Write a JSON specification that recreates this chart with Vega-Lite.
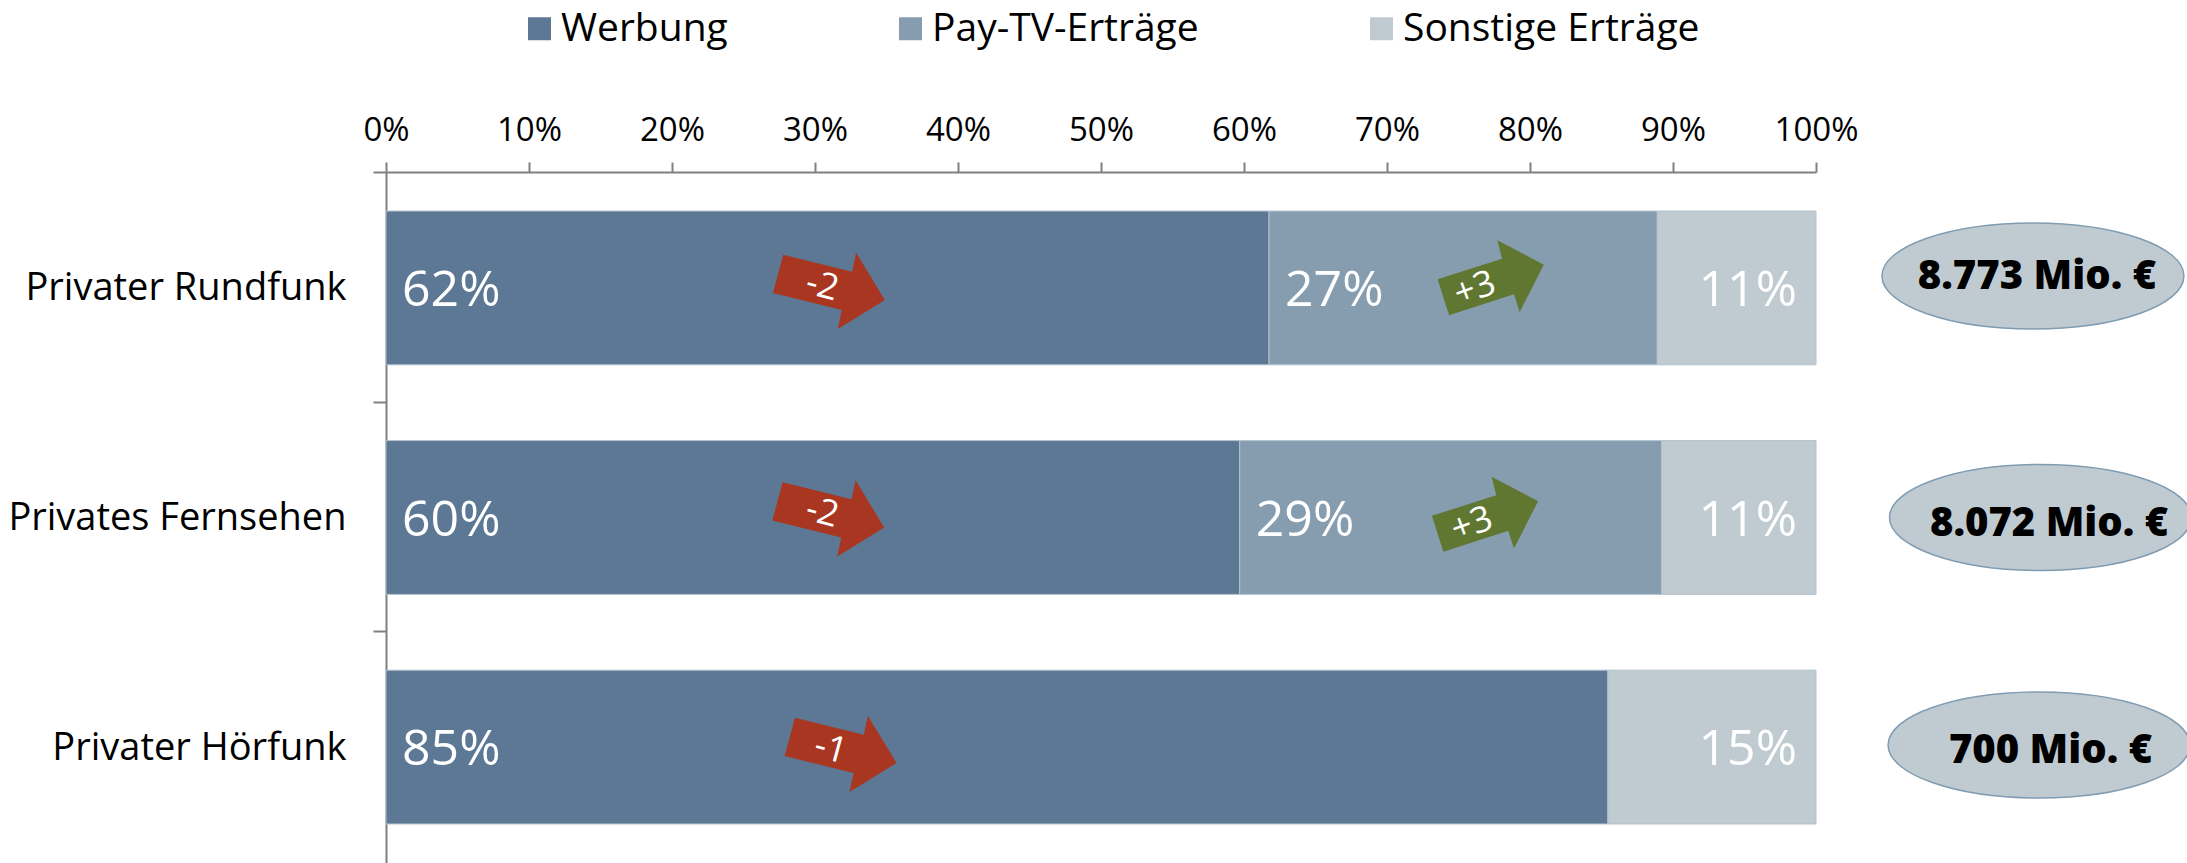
{"$schema":"https://vega.github.io/schema/vega-lite/v6.json","autosize":{"type":"none"},"width":1430,"height":691,"padding":{"left":386,"top":172,"right":371,"bottom":0},"background":"white","config":{"view":{"stroke":null},"font":"Open Sans"},"datasets":{"anteile":[{"Rundfunk":"Privater Rundfunk","Art":"Werbung","Ordnung":1,"Anteil":61.75,"Label":"62%"},{"Rundfunk":"Privater Rundfunk","Art":"Pay-TV-Erträge","Ordnung":2,"Anteil":27.15,"Label":"27%"},{"Rundfunk":"Privater Rundfunk","Art":"Sonstige Erträge","Ordnung":3,"Anteil":11.1,"Label":"11%"},{"Rundfunk":"Privates Fernsehen","Art":"Werbung","Ordnung":1,"Anteil":59.7,"Label":"60%"},{"Rundfunk":"Privates Fernsehen","Art":"Pay-TV-Erträge","Ordnung":2,"Anteil":29.5,"Label":"29%"},{"Rundfunk":"Privates Fernsehen","Art":"Sonstige Erträge","Ordnung":3,"Anteil":10.8,"Label":"11%"},{"Rundfunk":"Privater Hörfunk","Art":"Werbung","Ordnung":1,"Anteil":85.45,"Label":"85%"},{"Rundfunk":"Privater Hörfunk","Art":"Sonstige Erträge","Ordnung":3,"Anteil":14.55,"Label":"15%"}],"veraenderung":[{"Rundfunk":"Privater Rundfunk","Art":"Werbung","Wert":"-2"},{"Rundfunk":"Privater Rundfunk","Art":"Pay-TV-Erträge","Wert":"+3"},{"Rundfunk":"Privates Fernsehen","Art":"Werbung","Wert":"-2"},{"Rundfunk":"Privates Fernsehen","Art":"Pay-TV-Erträge","Wert":"+3"},{"Rundfunk":"Privater Hörfunk","Art":"Werbung","Wert":"-1"}],"gesamt":[{"Rundfunk":"Privater Rundfunk","Summe":"8.773 Mio. €"},{"Rundfunk":"Privates Fernsehen","Summe":"8.072 Mio. €"},{"Rundfunk":"Privater Hörfunk","Summe":"700 Mio. €"}]},"data":{"name":"anteile"},"encoding":{"y":{"field":"Rundfunk","type":"nominal","sort":["Privater Rundfunk","Privates Fernsehen","Privater Hörfunk"],"title":null,"scale":{"paddingInner":0.33,"paddingOuter":0.17},"axis":{"bandPosition":0,"tickOffset":-39,"labelOffset":40,"domainColor":"#808080","domainWidth":2,"tickColor":"#808080","tickWidth":2,"tickSize":13,"labelFontSize":38,"labelFont":"Open Sans","labelColor":"#000000","labelPadding":27,"labelLimit":400}}},"layer":[{"transform":[{"stack":"Anteil","groupby":["Rundfunk"],"sort":[{"field":"Ordnung","order":"ascending"}],"as":["Beginn","Ende"]}],"mark":{"type":"bar","stroke":"#B4C2CD","strokeWidth":1},"encoding":{"x":{"field":"Beginn","type":"quantitative","scale":{"domain":[0,100],"nice":false},"title":null,"axis":{"orient":"top","values":[0,10,20,30,40,50,60,70,80,90,100],"labelExpr":"datum.value+'%'","grid":false,"domainColor":"#808080","domainWidth":2,"tickColor":"#808080","tickWidth":2,"tickSize":10,"labelFontSize":33,"labelFont":"Open Sans","labelColor":"#000000","labelPadding":15,"labelFlush":false,"labelOverlap":false}},"x2":{"field":"Ende"},"color":{"field":"Art","type":"nominal","sort":["Werbung","Pay-TV-Erträge","Sonstige Erträge"],"scale":{"domain":["Werbung","Pay-TV-Erträge","Sonstige Erträge"],"range":["#5C7894","#869DB0","#C0CBD1"]},"legend":{"orient":"none","legendX":134,"legendY":-163,"direction":"horizontal","title":null,"symbolType":"square","symbolSize":529,"symbolStrokeWidth":0,"labelFontSize":39,"labelFont":"Open Sans","labelColor":"#000000","labelLimit":400,"columnPadding":163,"symbolOffset":0,"labelOffset":2}}}},{"transform":[{"stack":"Anteil","groupby":["Rundfunk"],"sort":[{"field":"Ordnung","order":"ascending"}],"as":["Beginn","Ende"]},{"filter":"datum.Art!=='Sonstige Erträge'"}],"mark":{"type":"text","align":"left","baseline":"middle","dx":16,"dy":3,"fontSize":50,"font":"Open Sans","color":"#FFFFFF"},"encoding":{"x":{"field":"Beginn","type":"quantitative"},"text":{"field":"Label"}}},{"transform":[{"stack":"Anteil","groupby":["Rundfunk"],"sort":[{"field":"Ordnung","order":"ascending"}],"as":["Beginn","Ende"]},{"filter":"datum.Art==='Sonstige Erträge'"}],"mark":{"type":"text","align":"right","baseline":"middle","dx":-19,"dy":3,"fontSize":50,"font":"Open Sans","color":"#FFFFFF"},"encoding":{"x":{"field":"Ende","type":"quantitative"},"text":{"field":"Label"}}},{"data":{"name":"veraenderung"},"transform":[{"filter":"datum.Rundfunk==='Privater Rundfunk'&&datum.Art==='Werbung'"}],"mark":{"type":"point","filled":true,"opacity":1,"size":40000,"shape":"M-0.458,-0.363L0.231,-0.193L0.271,-0.383L0.558,0.09L0.088,0.38L0.128,0.19L-0.561,0.02Z","color":"#A93620","yOffset":3},"encoding":{"x":{"datum":30.98}}},{"data":{"name":"veraenderung"},"transform":[{"filter":"datum.Rundfunk==='Privates Fernsehen'&&datum.Art==='Werbung'"}],"mark":{"type":"point","filled":true,"opacity":1,"size":40000,"shape":"M-0.458,-0.363L0.231,-0.193L0.271,-0.383L0.558,0.09L0.088,0.38L0.128,0.19L-0.561,0.02Z","color":"#A93620","yOffset":1},"encoding":{"x":{"datum":30.94}}},{"data":{"name":"veraenderung"},"transform":[{"filter":"datum.Rundfunk==='Privater Hörfunk'&&datum.Art==='Werbung'"}],"mark":{"type":"point","filled":true,"opacity":1,"size":40000,"shape":"M-0.458,-0.363L0.231,-0.193L0.271,-0.383L0.558,0.09L0.088,0.38L0.128,0.19L-0.561,0.02Z","color":"#A93620","yOffset":7},"encoding":{"x":{"datum":31.8}}},{"data":{"name":"veraenderung"},"transform":[{"filter":"datum.Rundfunk==='Privater Rundfunk'&&datum.Art==='Pay-TV-Erträge'"}],"mark":{"type":"point","filled":true,"opacity":1,"size":40000,"shape":"M-0.523,0.013L0.12,-0.193L0.074,-0.377L0.539,-0.133L0.297,0.34L0.24,0.163L-0.409,0.373Z","color":"#5F7730","yOffset":-10},"encoding":{"x":{"datum":77.2}}},{"data":{"name":"veraenderung"},"transform":[{"filter":"datum.Rundfunk==='Privates Fernsehen'&&datum.Art==='Pay-TV-Erträge'"}],"mark":{"type":"point","filled":true,"opacity":1,"size":40000,"shape":"M-0.523,0.013L0.12,-0.193L0.074,-0.377L0.539,-0.133L0.297,0.34L0.24,0.163L-0.409,0.373Z","color":"#5F7730","yOffset":-3},"encoding":{"x":{"datum":76.8}}},{"data":{"name":"veraenderung"},"transform":[{"filter":"datum.Rundfunk==='Privater Rundfunk'&&datum.Art==='Werbung'"}],"mark":{"type":"text","fontSize":36,"font":"Open Sans","color":"#FFFFFF","angle":15,"baseline":"middle","align":"center","yOffset":-2},"encoding":{"x":{"datum":30.5},"text":{"field":"Wert"}}},{"data":{"name":"veraenderung"},"transform":[{"filter":"datum.Rundfunk==='Privates Fernsehen'&&datum.Art==='Werbung'"}],"mark":{"type":"text","fontSize":36,"font":"Open Sans","color":"#FFFFFF","angle":15,"baseline":"middle","align":"center","yOffset":-5},"encoding":{"x":{"datum":30.5},"text":{"field":"Wert"}}},{"data":{"name":"veraenderung"},"transform":[{"filter":"datum.Rundfunk==='Privater Hörfunk'&&datum.Art==='Werbung'"}],"mark":{"type":"text","fontSize":36,"font":"Open Sans","color":"#FFFFFF","angle":15,"baseline":"middle","align":"center","yOffset":2},"encoding":{"x":{"datum":31.1},"text":{"field":"Wert"}}},{"data":{"name":"veraenderung"},"transform":[{"filter":"datum.Rundfunk==='Privater Rundfunk'&&datum.Art==='Pay-TV-Erträge'"}],"mark":{"type":"text","fontSize":36,"font":"Open Sans","color":"#FFFFFF","angle":340,"baseline":"middle","align":"center","yOffset":1},"encoding":{"x":{"datum":76.15},"text":{"field":"Wert"}}},{"data":{"name":"veraenderung"},"transform":[{"filter":"datum.Rundfunk==='Privates Fernsehen'&&datum.Art==='Pay-TV-Erträge'"}],"mark":{"type":"text","fontSize":36,"font":"Open Sans","color":"#FFFFFF","angle":340,"baseline":"middle","align":"center","yOffset":7},"encoding":{"x":{"datum":75.94},"text":{"field":"Wert"}}},{"data":{"name":"gesamt"},"transform":[{"filter":"datum.Rundfunk==='Privater Rundfunk'"}],"mark":{"type":"point","filled":false,"opacity":1,"size":91204,"shape":"M-1,0C-1,-0.194,-0.552,-0.351,0,-0.351C0.552,-0.351,1,-0.194,1,0C1,0.194,0.552,0.351,0,0.351C-0.552,0.351,-1,0.194,-1,0Z","fill":"#C0CBD1","stroke":"#7F9CB2","strokeWidth":1.5,"yOffset":-12,"clip":false},"encoding":{"x":{"datum":115.17}}},{"data":{"name":"gesamt"},"transform":[{"filter":"datum.Rundfunk==='Privates Fernsehen'"}],"mark":{"type":"point","filled":false,"opacity":1,"size":91204,"shape":"M-1,0C-1,-0.194,-0.552,-0.351,0,-0.351C0.552,-0.351,1,-0.194,1,0C1,0.194,0.552,0.351,0,0.351C-0.552,0.351,-1,0.194,-1,0Z","fill":"#C0CBD1","stroke":"#7F9CB2","strokeWidth":1.5,"yOffset":0,"clip":false},"encoding":{"x":{"datum":115.7}}},{"data":{"name":"gesamt"},"transform":[{"filter":"datum.Rundfunk==='Privater Hörfunk'"}],"mark":{"type":"point","filled":false,"opacity":1,"size":91204,"shape":"M-1,0C-1,-0.194,-0.552,-0.351,0,-0.351C0.552,-0.351,1,-0.194,1,0C1,0.194,0.552,0.351,0,0.351C-0.552,0.351,-1,0.194,-1,0Z","fill":"#C0CBD1","stroke":"#7F9CB2","strokeWidth":1.5,"yOffset":-2,"clip":false},"encoding":{"x":{"datum":115.6}}},{"data":{"name":"gesamt"},"transform":[{"filter":"datum.Rundfunk==='Privater Rundfunk'"}],"mark":{"type":"text","fontSize":40,"font":"Open Sans","fontWeight":800,"color":"#000000","baseline":"middle","align":"center","yOffset":-11},"encoding":{"x":{"datum":115.45},"text":{"field":"Summe"}}},{"data":{"name":"gesamt"},"transform":[{"filter":"datum.Rundfunk==='Privates Fernsehen'"}],"mark":{"type":"text","fontSize":40,"font":"Open Sans","fontWeight":800,"color":"#000000","baseline":"middle","align":"center","yOffset":6},"encoding":{"x":{"datum":116.3},"text":{"field":"Summe"}}},{"data":{"name":"gesamt"},"transform":[{"filter":"datum.Rundfunk==='Privater Hörfunk'"}],"mark":{"type":"text","fontSize":40,"font":"Open Sans","fontWeight":800,"color":"#000000","baseline":"middle","align":"center","yOffset":4},"encoding":{"x":{"datum":116.4},"text":{"field":"Summe"}}}]}
